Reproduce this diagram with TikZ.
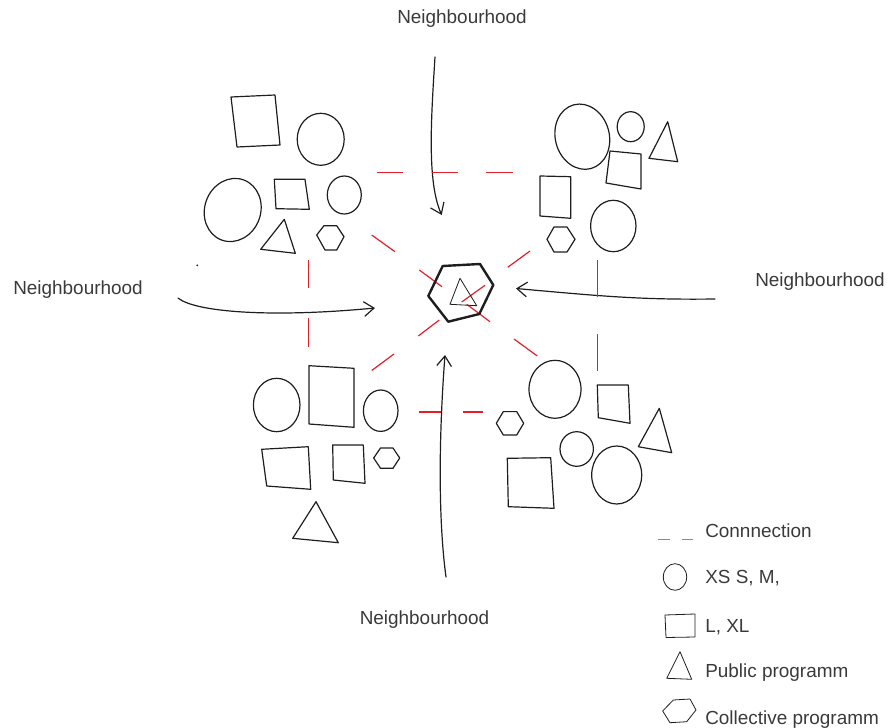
\documentclass[tikz,border=0pt]{standalone}
\usepackage{fontspec}
\setmainfont{Liberation Sans}
\usetikzlibrary{arrows.meta}
\definecolor{ink}{HTML}{1E1E1E}
\definecolor{link}{HTML}{E2202A}
\definecolor{linksoft}{HTML}{E06A6A}
\definecolor{txt}{HTML}{3A3A3A}
\begin{document}
\begin{tikzpicture}[x=0.75pt,y=-0.75pt,
  sketch/.style={draw=ink,line width=0.9pt,line join=round,line cap=round},
  heavy/.style={sketch,line width=1.8pt},
  fine/.style={sketch,line width=0.6pt},
  conn/.style={draw=link,line width=0.9pt},
  flow/.style={sketch,-{Straight Barb[length=7.5pt,width=11pt,line width=0.9pt]}},
  lbl/.style={text=txt,font=\fontsize{14.2}{16}\selectfont,inner sep=0pt,anchor=base},
  key/.style={lbl,anchor=base west}]
\useasboundingbox (0,0) rectangle (890,728);

% ---- neighbourhood labels ----
\node[lbl] (nTop)    at (462,23)  {Neighbourhood};
\node[lbl] (nLeft)   at (78,294)  {Neighbourhood};
\node[lbl] (nRight)  at (820,286) {Neighbourhood};
\node[lbl] (nBottom) at (424.5,624) {Neighbourhood};

% ---- flows towards the centre ----
\coordinate (tS) at (435,57);    \coordinate (tE) at (441.7,215);
\coordinate (bS) at (446,577);   \coordinate (bE) at (445,355);
\coordinate (lS) at (178,298);   \coordinate (lE) at (375,308);
\coordinate (rS) at (715,299);   \coordinate (rE) at (516,288.5);
\draw[flow] (tS) .. controls (431,120) and (427,182) .. (tE);
\draw[flow] (bS) .. controls (437,510) and (440,420) .. (bE);
\draw[flow] (lS) .. controls (195,312) and (270,318) .. (lE);
\draw[flow] (rS) .. controls (640,300) and (600,296) .. (rE);

% ---- connections (red dashes) ----
\draw[conn] (376.7,172.3) -- (403.3,172.3);
\draw[conn] (431.7,172.3) -- (457.7,172.3);
\draw[conn] (486,172.3) -- (512.7,172.3);
\draw[conn] (308.3,260) -- (308.3,288.3);
\draw[conn] (308.3,318.3) -- (308.3,346.7);
\draw[conn] (597.3,260) -- (597.3,296.7);
\draw[conn] (597.3,334) -- (597.3,370.7);
\draw[conn] (419.3,412) -- (440.7,412);
\draw[conn] (462.7,412) -- (483.3,412);
\draw[conn] (371.7,235) -- (395,251.7);
\draw[conn] (419.3,270) -- (442,286.7);
\draw[conn] (530,251) -- (507.7,267.3);
\draw[conn] (485,285.3) -- (461.7,302);
\draw[conn] (466.7,304.3) -- (490,321.7);
\draw[conn] (514,339) -- (537.3,356);
\draw[conn] (439.3,320) -- (418.3,336);
\draw[conn] (394,354) -- (371.7,370.5);

% ---- centre: collective hexagon with public triangle ----
\draw[heavy] (442.7,266) -- (480,264) -- (493.3,285) -- (479.3,314)
  -- (448.3,321.7) -- (428.3,296) -- cycle;
\draw[fine] (460,278.3) -- (450,304.3) -- (476.7,305.7) -- cycle;

% ---- north-west cluster ----
\draw[sketch] (231,97) -- (275,95) -- (280,145) -- (237,147) -- cycle;
\draw[sketch] (320.7,139.3) ellipse [x radius=23.5,y radius=26];
\draw[sketch,rotate around={-20:(232.7,210)}] (232.7,210) ellipse [x radius=28,y radius=32];
\draw[sketch] (274.3,179.3) -- (305,179.3) -- (309.3,209.3) -- (276,208.7) -- cycle;
\draw[sketch] (344.3,195) ellipse [x radius=17,y radius=19];
\draw[sketch] (284.3,219.3) -- (260.7,249.3) -- (295.3,253.3) -- cycle;
\draw[sketch] (324,225.7) -- (336.7,225.7) -- (344,236.7) -- (336.7,250)
  -- (325,250) -- (316.7,235) -- cycle;
\fill[ink] (197.3,265.3) circle [radius=1];

% ---- north-east cluster ----
\draw[sketch,rotate around={15:(582.3,136.7)}] (582.3,136.7) ellipse [x radius=27,y radius=33];
\draw[sketch] (630.7,126.7) ellipse [x radius=13.5,y radius=15];
\draw[sketch] (667.7,121.7) -- (649,158.3) -- (677.7,161.7) -- cycle;
\draw[sketch] (610,151) -- (641,154) -- (641,189) -- (606,183) -- cycle;
\draw[sketch] (540,176) -- (570.7,176.7) -- (570.7,218.3) -- (540,216) -- cycle;
\draw[sketch] (613.3,226) ellipse [x radius=22.7,y radius=25.7];
\draw[sketch] (554,227) -- (567,227) -- (575,239.3) -- (567,252)
  -- (554,252) -- (547,239.3) -- cycle;

% ---- south-west cluster ----
\draw[sketch] (276.7,405) ellipse [x radius=23.3,y radius=26.7];
\draw[sketch] (309,365.7) -- (354,368.3) -- (354,427.3) -- (309,424) -- cycle;
\draw[sketch] (380.7,410.7) ellipse [x radius=17.3,y radius=20.7];
\draw[sketch] (261.7,449.3) -- (308.3,446.7) -- (310.7,489.3) -- (266.7,486) -- cycle;
\draw[sketch] (332.7,445) -- (363.3,445) -- (365,483.3) -- (333.3,480) -- cycle;
\draw[sketch] (380.5,448) -- (393,448) -- (399.7,458) -- (393,468.3)
  -- (380.5,468.3) -- (373.7,458) -- cycle;
\draw[sketch] (316,501.7) -- (292.7,538.3) -- (338.3,542.7) -- cycle;

% ---- south-east cluster ----
\draw[sketch] (555,389.3) ellipse [x radius=26,y radius=29];
\draw[sketch] (597.3,385) -- (628.3,385) -- (630,423.3) -- (598.3,417.7) -- cycle;
\draw[sketch] (503.3,411.6) -- (516.7,411.6) -- (523.7,423.3) -- (516.7,435)
  -- (503.3,435) -- (496.3,423.3) -- cycle;
\draw[sketch] (576.7,449) ellipse [x radius=16.7,y radius=17.3];
\draw[sketch] (659.3,408.3) -- (638.3,446.7) -- (671.7,452.7) -- cycle;
\draw[sketch] (616.7,475) ellipse [x radius=25,y radius=29];
\draw[sketch] (507.3,458.3) -- (550.7,457.7) -- (554,508.3) -- (508.3,506.7) -- cycle;

% ---- legend ----
\draw[draw=linksoft,line width=1.1pt] (658.3,539.3) -- (670,539.3);
\draw[draw=linksoft,line width=1.1pt] (681.7,539.3) -- (693.3,539.3);
\node[key] (kConn) at (705,537) {Connnection};
\draw[fine] (675,577) ellipse [x radius=11.7,y radius=13.3];
\node[key] (kCirc) at (705,583) {XS S, M,};
\draw[fine] (665,615) -- (695,614) -- (695,637) -- (666,637.5) -- cycle;
\node[key] (kSq) at (705,632) {L, XL};
\draw[fine] (680,651.7) -- (666.7,678.3) -- (691.7,679.3) -- cycle;
\node[key] (kTri) at (705,677) {Public programm};
\draw[fine] (673.3,700) -- (690,699) -- (696,710) -- (686.7,721.7)
  -- (670,722.7) -- (662.7,711) -- cycle;
\node[key] (kHex) at (705,724) {Collective programm};
\end{tikzpicture}
\end{document}
